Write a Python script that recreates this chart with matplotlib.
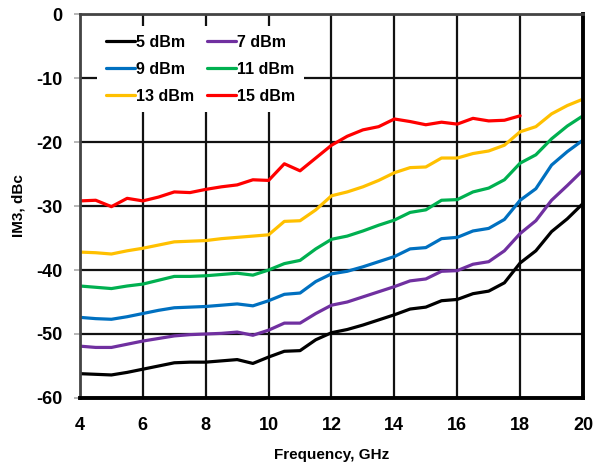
import numpy as np
import matplotlib
matplotlib.use('Agg')
import matplotlib.pyplot as plt

freq = [4, 4.5, 5, 5.5, 6, 6.5, 7, 7.5, 8, 8.5, 9, 9.5, 10, 10.5, 11, 11.5, 12,
        12.5, 13, 13.5, 14, 14.5, 15, 15.5, 16, 16.5, 17, 17.5, 18, 18.5, 19, 19.5, 20]

im3_5dbm = [-56.2, -56.3, -56.4, -56.0, -55.5, -55.0, -54.5, -54.4, -54.4, -54.2, -54.0, -54.6,
            -53.6, -52.7, -52.6, -50.9, -49.8, -49.3, -48.6, -47.8, -47.0, -46.1, -45.8, -44.8,
            -44.6, -43.7, -43.3, -42.0, -38.9, -37.0, -34.0, -32.0, -29.6]
im3_7dbm = [-51.9, -52.1, -52.1, -51.6, -51.1, -50.7, -50.3, -50.1, -50.0, -49.9, -49.7, -50.2,
            -49.4, -48.3, -48.3, -46.8, -45.5, -45.0, -44.2, -43.4, -42.6, -41.7, -41.4, -40.2,
            -40.1, -39.1, -38.7, -37.0, -34.3, -32.3, -29.1, -26.8, -24.4]
im3_9dbm = [-47.4, -47.6, -47.7, -47.3, -46.8, -46.3, -45.9, -45.8, -45.7, -45.5, -45.3, -45.6,
            -44.8, -43.8, -43.6, -41.8, -40.6, -40.2, -39.5, -38.7, -37.9, -36.7, -36.5, -35.1,
            -34.9, -33.9, -33.5, -32.1, -29.1, -27.3, -23.6, -21.5, -19.7]
im3_11dbm = [-42.5, -42.7, -42.9, -42.5, -42.2, -41.6, -41.0, -41.0, -40.9, -40.7, -40.5, -40.8,
             -40.0, -39.0, -38.5, -36.7, -35.2, -34.7, -33.9, -33.0, -32.2, -31.0, -30.6, -29.1,
             -29.0, -27.8, -27.2, -25.9, -23.3, -22.0, -19.5, -17.5, -15.9]
im3_13dbm = [-37.2, -37.3, -37.5, -37.0, -36.6, -36.1, -35.6, -35.5, -35.4, -35.1, -34.9, -34.7,
             -34.5, -32.4, -32.3, -30.6, -28.4, -27.8, -27.0, -26.0, -24.8, -24.0, -23.9, -22.5,
             -22.5, -21.8, -21.4, -20.5, -18.4, -17.6, -15.6, -14.3, -13.3]
# 15 dBm stops at 18 GHz
im3_15dbm = [-29.2, -29.1, -30.1, -28.8, -29.2, -28.6, -27.8, -27.9, -27.4, -27.0, -26.7, -25.9,
             -26.0, -23.4, -24.5, -22.5, -20.5, -19.1, -18.1, -17.6, -16.4, -16.8, -17.3, -16.9,
             -17.2, -16.3, -16.7, -16.6, -15.9]

series = [('5 dBm', im3_5dbm, '#000000'),
          ('7 dBm', im3_7dbm, '#7030A0'),
          ('9 dBm', im3_9dbm, '#0070C0'),
          ('11 dBm', im3_11dbm, '#00B050'),
          ('13 dBm', im3_13dbm, '#FFC000'),
          ('15 dBm', im3_15dbm, '#FF0000')]

plt.rcParams['font.family'] = ['Liberation Sans', 'DejaVu Sans']
plt.rcParams['font.weight'] = 'bold'
plt.rcParams['axes.unicode_minus'] = False

fig = plt.figure(figsize=(5.96, 4.68), dpi=100)
ax = fig.add_axes([0.1342, 0.1496, 0.8440, 0.8204])

lines = {}
for label, vals, color in series:
    lines[label], = ax.plot(freq[:len(vals)], vals, color=color, lw=2.3,
                            solid_capstyle='round', label=label)

ax.set_xlim(4, 20)
ax.set_ylim(-60, 0)
ax.set_xticks(np.arange(4, 21, 2))
ax.set_yticks(np.arange(-60, 1, 10))
ax.grid(True, color='#111111', lw=1.6)
ax.set_axisbelow(True)
ax.tick_params(axis='x', labelsize=13, length=0, pad=14)
ax.tick_params(axis='y', labelsize=13, length=4.5, width=1.2, color='#aaaaaa', pad=8)
for lab in ax.get_xticklabels() + ax.get_yticklabels():
    lab.set_fontweight('bold')

for side in ['left', 'top']:
    ax.spines[side].set_linewidth(2.0)
    ax.spines[side].set_color('#444444')
for side in ['bottom', 'right']:
    ax.spines[side].set_linewidth(2.8)
    ax.spines[side].set_color('#000000')

ax.set_xlabel('Frequency, GHz', fontsize=11, fontweight='bold', labelpad=10)
ax.set_ylabel('IM3, dBc', fontsize=11, fontweight='bold', labelpad=8)

order = ['5 dBm', '9 dBm', '13 dBm', '7 dBm', '11 dBm', '15 dBm']
leg = ax.legend([lines[k] for k in order], order, ncol=2, loc='upper left',
                bbox_to_anchor=(0.018, 0.99), fontsize=11.5, frameon=True,
                facecolor='white', edgecolor='none', framealpha=1, fancybox=False,
                handlelength=1.8, handletextpad=0.1, columnspacing=0.8,
                labelspacing=0.75, borderpad=0.55)
for t in leg.get_texts():
    t.set_fontweight('bold')

fig.savefig('out.png', dpi=100)
